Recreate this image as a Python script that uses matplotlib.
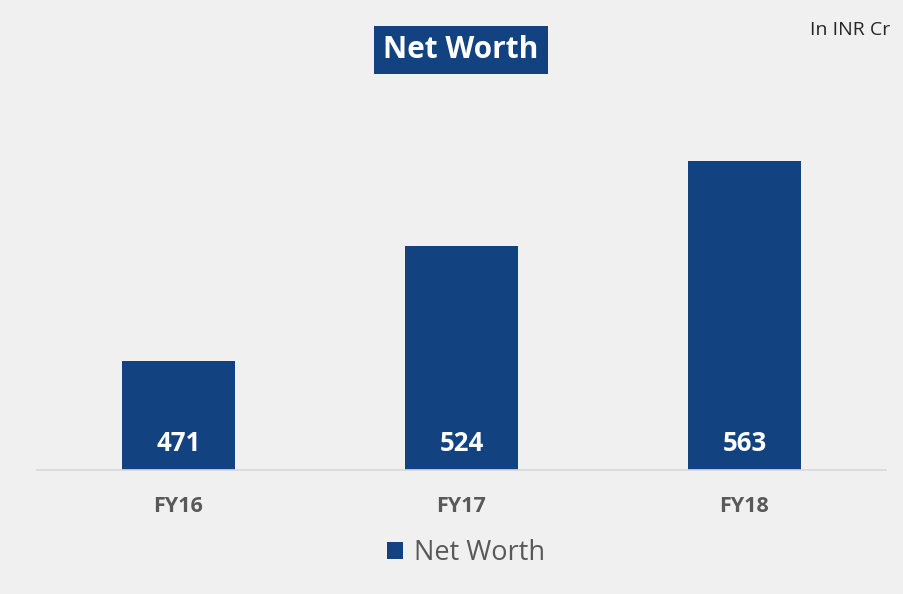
import matplotlib.pyplot as plt

# data
years = ['FY16', 'FY17', 'FY18']
net_worth = [471, 524, 563]

bar_color = '#12427f'
bg = '#f0f0f0'
txt_gray = '#595959'

plt.rcParams['font.family'] = ['Open Sans', 'DejaVu Sans']

fig = plt.figure(figsize=(9.04, 5.94), dpi=100)
fig.patch.set_facecolor(bg)
# axes placed in pixel terms of the 904x594 canvas
ax = fig.add_axes([37 / 904, 124 / 594, 849 / 904, 394 / 594])
ax.set_facecolor(bg)

x = range(len(years))
bars = ax.bar(x, net_worth, width=0.4, color=bar_color, label='Net Worth', zorder=2)
ax.set_xlim(-0.5, 2.5)
ax.set_ylim(421, 602)

for i, v in enumerate(net_worth):
    ax.text(i, 433, str(v), ha='center', va='center', color='white',
            fontsize=18.5, fontweight='bold')

ax.set_xticks(list(x))
ax.set_xticklabels(years, fontsize=15.5, fontweight='bold', color=txt_gray)
ax.tick_params(axis='x', length=0, pad=19)
ax.set_yticks([])
for s in ['top', 'right', 'left']:
    ax.spines[s].set_visible(False)
ax.spines['bottom'].set_color('#d9d9d9')
ax.spines['bottom'].set_linewidth(1.2)

# title in a filled box
fig.text(461 / 904, 1 - 50 / 594, 'Net Worth', ha='center', va='center',
         color='white', fontsize=21.5, fontweight='bold',
         bbox=dict(boxstyle='square,pad=0.3', fc=bar_color, ec='none'))

fig.text(890 / 904, 1 - 30 / 594, 'In INR Cr', ha='right', va='center',
         color='#262626', fontsize=14)

leg = fig.legend(handles=[bars], labels=['Net Worth'], loc='center',
                 bbox_to_anchor=(466 / 904, 1 - 553 / 594), frameon=False,
                 fontsize=19.5, handlelength=0.6, handleheight=0.6,
                 handletextpad=0.4)
for t in leg.get_texts():
    t.set_color(txt_gray)

fig.savefig('out.png', dpi=100, facecolor=bg)
